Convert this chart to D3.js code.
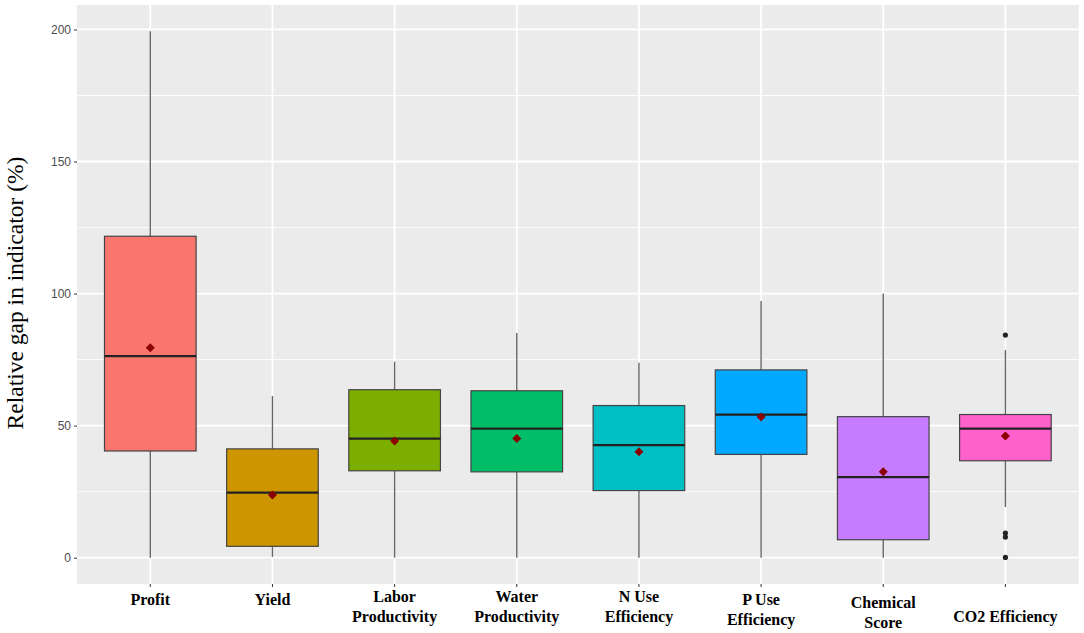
<!DOCTYPE html>
<html><head><meta charset="utf-8">
<script src="https://cdn.jsdelivr.net/npm/d3@7"></script>
<style>html,body{margin:0;padding:0;background:#fff;}</style>
</head><body>
<svg id="chart" width="1084" height="633"></svg>
<script>
const categories = ["Profit","Yield","Labor Productivity","Water Productivity","N Use Efficiency","P Use Efficiency","Chemical Score","CO2 Efficiency"];
const labelLines = [["Profit"],["Yield"],["Labor","Productivity"],["Water","Productivity"],["N Use","Efficiency"],["P Use","Efficiency"],["Chemical","Score"],["CO2 Efficiency"]];
const whiskerLow  = [0, 0.3, 0, 0, 0, 0, 0, 19.2];
const q1          = [40.4, 4.3, 32.9, 32.5, 25.4, 39.1, 6.8, 36.7];
const medians     = [76.3, 24.6, 45.1, 48.9, 42.6, 54.2, 30.5, 48.9];
const q3          = [121.7, 41.2, 63.6, 63.2, 57.6, 71.1, 53.4, 54.2];
const whiskerHigh = [199.3, 61.2, 74.2, 85.1, 73.8, 97.2, 100, 78.6];
const means       = [79.5, 23.7, 44.2, 45.1, 40.1, 53.3, 32.5, 46.1];
const outliers    = [[],[],[],[],[],[],[],[84.3, 9.3, 7.8, 0.1]];
const yTicks = [0, 50, 100, 150, 200];
const yMinor = [25, 75, 125, 175];
const colors = ["#F8766D","#CD9600","#7CAE00","#00BE67","#00BFC4","#00A9FF","#C77CFF","#FF61CC"];

(function(){
const svg = d3.select("#chart");
const pL = 77, pR = 1078.7, pT = 5, pB = 584;

// ggplot discrete expansion: 0.6 units on each side
const xs = d3.scaleLinear().domain([0.4, categories.length + 0.6]).range([pL, pR]);
const xc = c => xs(categories.indexOf(c) + 1);
const unit = xs(2) - xs(1);
const boxW = unit * 0.75;
const y = d3.scaleLinear().domain([-9.965, 209.265]).range([pB, pT]);

svg.append("rect").attr("x", pL).attr("y", pT).attr("width", pR - pL).attr("height", pB - pT).attr("fill", "#EBEBEB");

const grid = svg.append("g");
yMinor.forEach(v => grid.append("line").attr("x1", pL).attr("x2", pR).attr("y1", y(v)).attr("y2", y(v)).attr("stroke", "#fff").attr("stroke-width", 0.9));
yTicks.forEach(v => grid.append("line").attr("x1", pL).attr("x2", pR).attr("y1", y(v)).attr("y2", y(v)).attr("stroke", "#fff").attr("stroke-width", 1.8));
categories.forEach(c => grid.append("line").attr("x1", xc(c)).attr("x2", xc(c)).attr("y1", pT).attr("y2", pB).attr("stroke", "#fff").attr("stroke-width", 1.8));

const yAxis = d3.axisLeft(y).tickValues(yTicks).tickSize(3).tickPadding(3);
const ga = svg.append("g").attr("transform", `translate(${pL},0)`).call(yAxis);
ga.select(".domain").remove();
ga.selectAll(".tick line").attr("stroke", "#333").attr("stroke-width", 1);
ga.selectAll(".tick text").attr("fill", "#4D4D4D").attr("font-family", "Arial, 'Liberation Sans', sans-serif").attr("font-size", 12);

// vertical placement of the category labels (layout, not data)
const labelBase = (i, n) => {
  if (n === 2) return i === 6 ? 608 : (i === 5 ? 605 : 602);
  return i === 7 ? 622 : 605;
};
const gx = svg.append("g");
categories.forEach((c, i) => {
  const cx = xc(c);
  gx.append("line").attr("x1", cx).attr("x2", cx).attr("y1", pB).attr("y2", pB + 3).attr("stroke", "#333");
  const t = gx.append("text").attr("text-anchor", "middle").attr("font-family", "'Liberation Serif', 'Times New Roman', serif")
    .attr("font-weight", "bold").attr("font-size", 16).attr("fill", "#000");
  const b = labelBase(i, labelLines[i].length);
  labelLines[i].forEach((l, k) => t.append("tspan").attr("x", cx).attr("y", b + k * 20).text(l));
});

const g = svg.append("g");
categories.forEach((c, i) => {
  const cx = xc(c);
  g.append("line").attr("x1", cx).attr("x2", cx).attr("y1", y(q3[i])).attr("y2", y(whiskerHigh[i])).attr("stroke", "#666").attr("stroke-width", 1.4);
  g.append("line").attr("x1", cx).attr("x2", cx).attr("y1", y(q1[i])).attr("y2", y(whiskerLow[i])).attr("stroke", "#666").attr("stroke-width", 1.4);
  g.append("rect").attr("x", cx - boxW / 2).attr("y", y(q3[i])).attr("width", boxW).attr("height", y(q1[i]) - y(q3[i]))
    .attr("fill", colors[i]).attr("stroke", "#444").attr("stroke-width", 1.2);
  g.append("line").attr("x1", cx - boxW / 2).attr("x2", cx + boxW / 2).attr("y1", y(medians[i])).attr("y2", y(medians[i])).attr("stroke", "#222").attr("stroke-width", 2.2);
  outliers[i].forEach(v => g.append("circle").attr("cx", cx).attr("cy", y(v)).attr("r", 2.6).attr("fill", "#222"));
  g.append("path").attr("d", d3.symbol(d3.symbolDiamond2, 52)()).attr("transform", `translate(${cx},${y(means[i])})`).attr("fill", "#8B0000");
});

svg.append("text").attr("transform", `translate(22.5,293) rotate(-90)`).attr("text-anchor", "middle")
  .attr("font-family", "'Liberation Serif', 'Times New Roman', serif").attr("font-size", 23.5).attr("fill", "#000")
  .text("Relative gap in indicator (%)");
})();
</script>
</body></html>
